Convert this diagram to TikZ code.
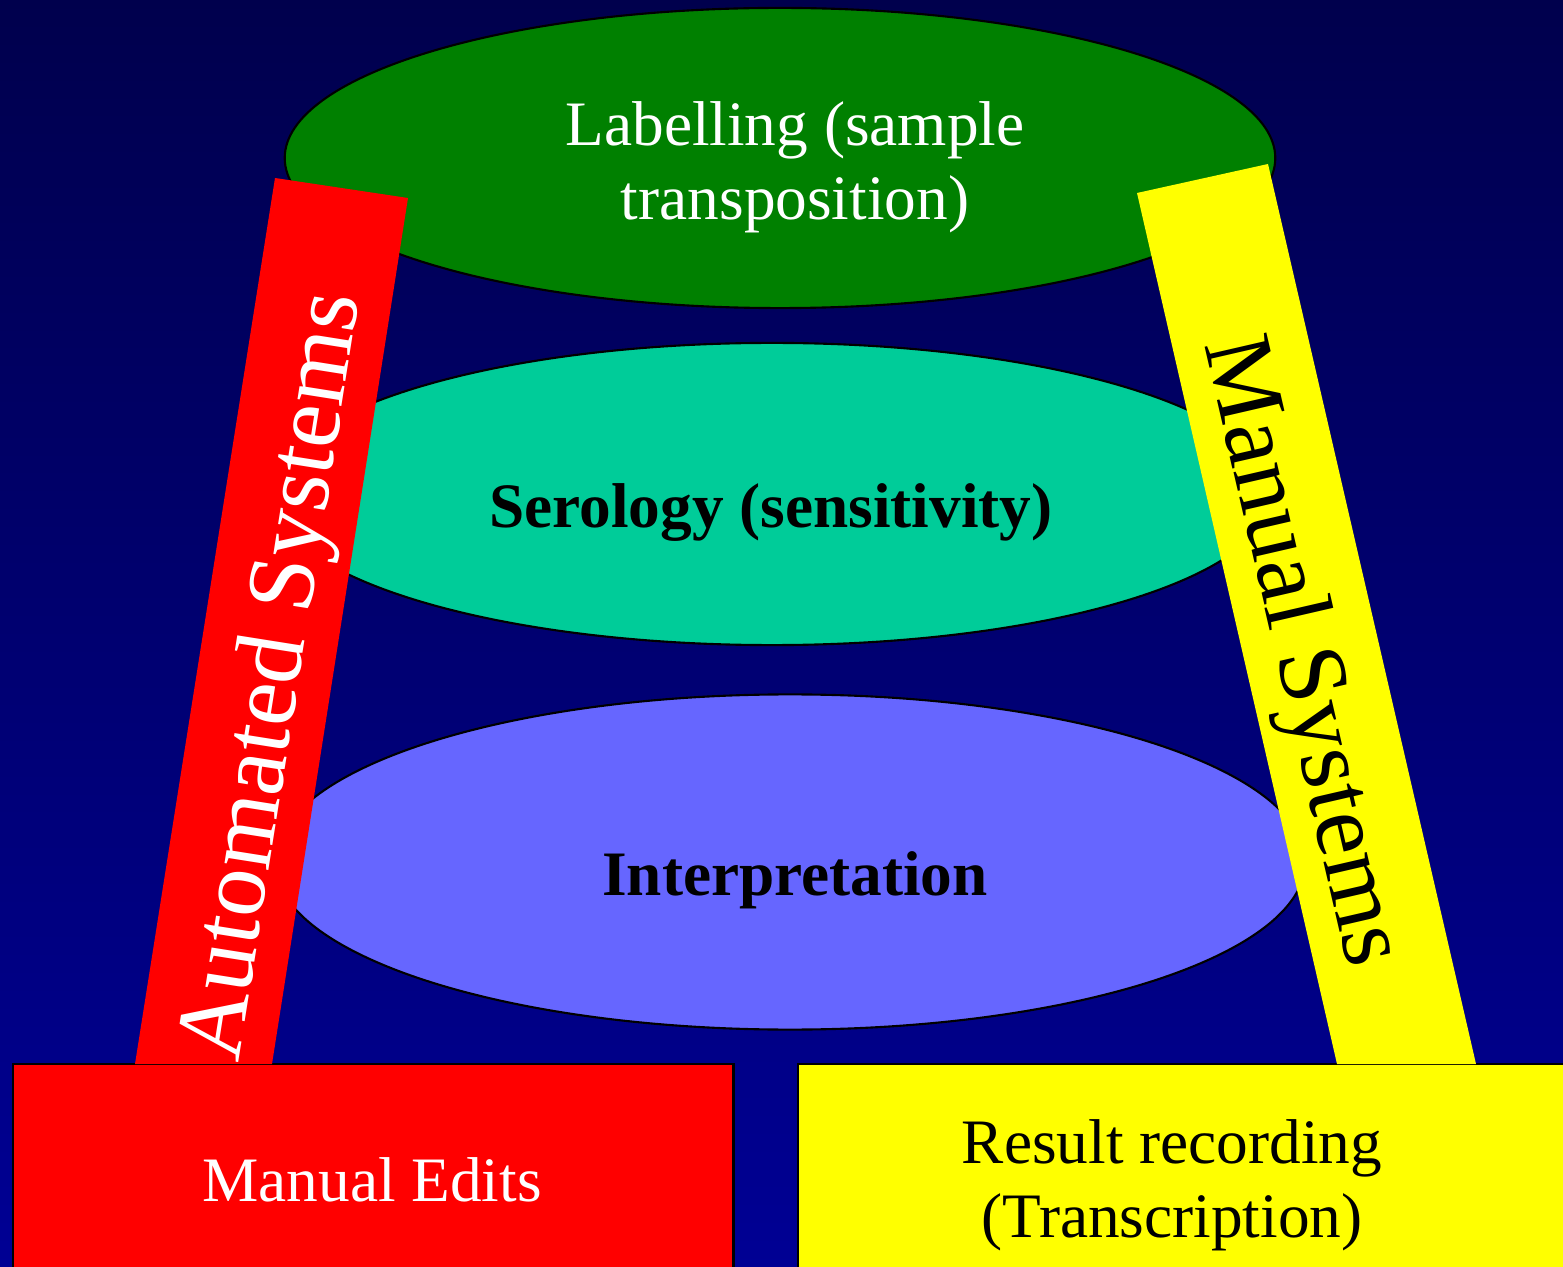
\documentclass[tikz,border=0pt]{standalone}
\usepackage{fontspec}
\setmainfont{Liberation Serif}
\usetikzlibrary{shapes.geometric}

\definecolor{bgtop}{RGB}{0,0,77}
\definecolor{bgbottom}{RGB}{0,0,148}
\definecolor{labelgreen}{RGB}{0,128,0}
\definecolor{serologyteal}{RGB}{0,204,153}
\definecolor{interpblue}{RGB}{102,102,255}
\definecolor{autored}{RGB}{255,0,0}
\definecolor{manualyellow}{RGB}{255,255,0}

\begin{document}
\begin{tikzpicture}[
    x=0.01cm, y=-0.01cm,
    stage/.style={ellipse, draw=black, line width=0.6pt, inner sep=0pt},
    base/.style={rectangle, draw=black, line width=0.6pt, anchor=north west, inner sep=0pt},
    stagetext/.style={font=\fontsize{18}{21}\selectfont, align=center},
    barlabel/.style={font=\fontsize{27.5}{30}\selectfont}
]

% --- Background ---
\useasboundingbox (0,0) rectangle (1563,1267);
\shade[top color=bgtop, bottom color=bgbottom] (0,0) rectangle (1563,1267);

% --- Stages ---
\node[stage, fill=labelgreen, minimum width=9.9cm, minimum height=3cm] (labelling) at (780,158) {};
\node[stage, fill=serologyteal, minimum width=10cm, minimum height=3.02cm] (serology) at (772,494) {};
\node[stage, fill=interpblue, minimum width=10.3cm, minimum height=3.35cm] (interp) at (790,862) {};

\node[stagetext, white] (labeltext) at (795,167) {Labelling (sample\\transposition)};
\node[stagetext, font=\fontsize{18}{21}\selectfont\bfseries] (serotext) at (771,513) {Serology (sensitivity)};
\node[stagetext, font=\fontsize{18}{21}\selectfont\bfseries] (interptext) at (795,880) {Interpretation};

% --- Bottom boxes ---
\node[base, fill=autored, minimum width=7.2cm, minimum height=2.4cm] (edits) at (12,1063) {};
\node[base, fill=manualyellow, minimum width=7.8cm, minimum height=2.4cm] (recording) at (797,1063) {};

\node[stagetext, white] (editstext) at (372,1180) {Manual Edits};
\node[stagetext] (recordtext) at (1172,1185) {Result recording\\(Transcription)};

% --- Side bars ---
\fill[autored] (275,178) -- (408,198) -- (272,1064) -- (135,1064) -- cycle;
\fill[manualyellow] (1137,193) -- (1268,164) -- (1476,1064) -- (1337,1064) -- cycle;

\node[barlabel, white, rotate=81] (automated) at (276,677) {Automated Systems};
\node[barlabel, rotate=-77] (manual) at (1299,652) {Manual Systems};

\end{tikzpicture}
\end{document}
